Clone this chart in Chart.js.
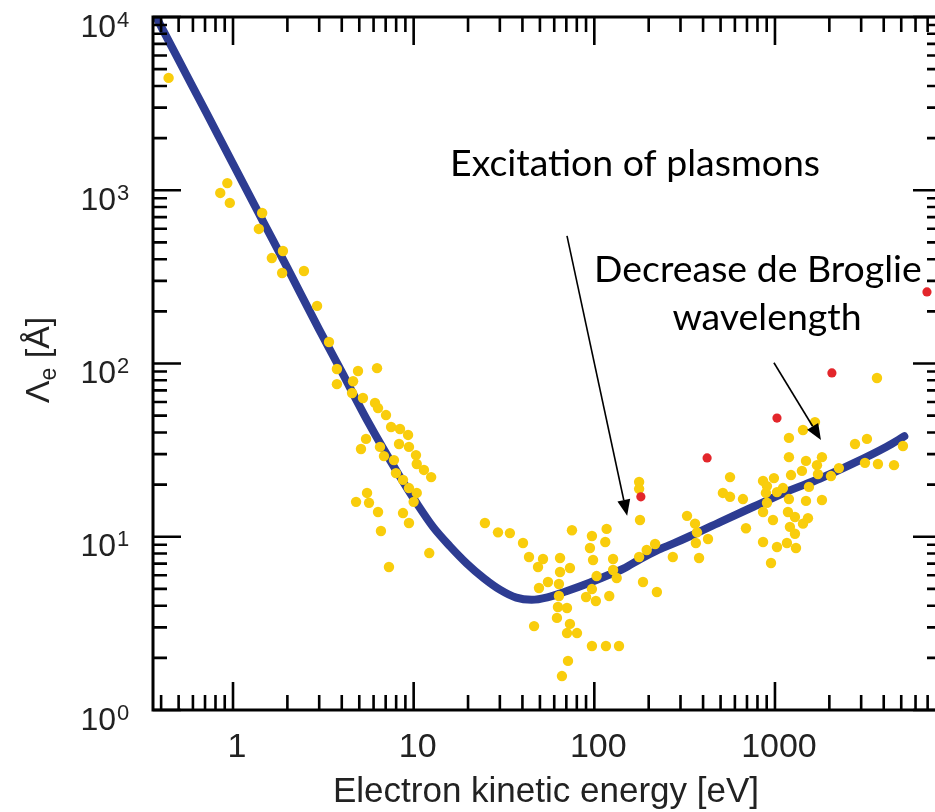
<!DOCTYPE html>
<html><head><meta charset="utf-8">
<script src="https://cdn.jsdelivr.net/npm/chart.js@4.4.0/dist/chart.umd.min.js"></script>
<style>
html,body{margin:0;padding:0;background:#fff;overflow:hidden;width:935px;height:812px}
#wrap{position:absolute;left:0;top:0;width:950px;height:812px}
</style></head><body>
<div id="wrap"><canvas id="c"></canvas></div>
<script>
// ---- data ----
const curveEnergy = [0.37, 0.5, 0.7, 1, 1.5, 2, 3, 4, 5.5, 8.4, 10.4, 12.8, 15.9, 19.7, 24.5, 30, 37, 45, 55, 70, 95, 117, 145, 180, 220, 275, 340, 500, 760, 1160, 1780, 2710, 4150, 5200];
const curveLength = [10300, 5650, 2900, 1420, 632, 356, 157, 89.5, 47.5, 22.2, 15.6, 11.4, 8.8, 7.0, 5.75, 4.95, 4.45, 4.33, 4.47, 4.85, 5.45, 5.95, 6.55, 7.45, 8.3, 9.15, 10.1, 12.2, 14.9, 18.2, 21.7, 26.5, 33.1, 38];

const yellowEnergy = [0.44, 0.93, 0.85, 0.96, 1.45, 1.39, 1.89, 1.64, 1.87, 2.47, 2.92, 3.40, 3.76, 3.76, 4.92, 6.27, 4.62, 4.56, 5.24, 6.11,
  6.35, 7.03, 7.50, 8.40, 9.31, 8.30, 9.42, 10.3, 10.4, 11.4, 12.5, 5.45, 5.11, 6.51, 6.85, 7.78, 7.98, 8.73, 9.42, 10.4,
  10.0, 5.52, 4.80, 5.66, 6.35, 8.73, 9.42, 6.59, 12.2, 7.30, 24.8, 29.3, 34.1, 40.3, 43.5, 52, 48.8, 55.4, 49.4, 64.6,
  64.6, 63.7, 73.3, 75.2, 97, 117, 115, 94.6, 98.4, 127, 103, 127, 133, 97, 90, 102, 121, 63.7, 62.9, 70.6,
  62.1, 46.4, 73.3, 70.6, 80.2, 97, 116, 137, 71.5, 66.2, 179, 177, 177, 177, 195, 217, 272, 186, 222, 326,
  361, 370, 426, 365, 380, 564, 515, 564, 665, 691, 859, 1026, 951, 859, 987, 903, 891, 1026, 1107, 903,
  859, 975, 1195, 1180, 1290, 1210, 1290, 1165, 1307, 1195, 1195, 1227, 1429, 1665, 1485, 1410, 1708, 1730, 1542, 1820,
  1485, 1820, 1523, 1429, 2042, 2259, 3670, 2773, 3230, 3150, 3715, 4560, 5110];
const yellowLength = [4450, 1100, 965, 845, 739, 598, 446, 406, 333, 342, 215, 133, 93, 76, 90.5, 94, 79, 67.6, 63.2, 59.2,
  55.3, 50.4, 43, 41.9, 38.7, 34.3, 33, 29.6, 26.3, 24.3, 22.1, 36.7, 32.1, 33, 29.2, 27.7, 23.3, 21.3, 19.1, 17.9,
  15.9, 17.9, 15.9, 15.7, 13.9, 13.7, 12.0, 10.8, 8.05, 6.69, 12.0, 10.6, 10.5, 9.2, 7.64, 7.44, 6.69, 5.48, 5.06, 7.54,
  6.26, 5.34, 6.6, 10.9, 10.1, 11.1, 9.33, 8.61, 7.34, 7.44, 5.93, 6.43, 5.78, 4.99, 4.49, 4.26, 4.55, 4.55, 3.93, 3.88,
  3.40, 3.05, 3.14, 2.78, 2.78, 2.34, 2.34, 2.34, 1.92, 1.57, 12.5, 20.7, 18.9, 7.64, 8.39, 9.08, 7.64, 5.48, 4.80, 13.2,
  11.9, 10.6, 9.7, 9.2, 7.54, 22.1, 17.9, 17, 16.5, 11.2, 9.33, 8.73, 7.05, 21, 21.8, 19.6, 17.9, 18.1, 19.1, 15.7,
  13.9, 12.5, 16.5, 13.9, 13, 11.4, 10.4, 9.2, 8.61, 37.2, 28.8, 22.7, 41.3, 45.9, 27.4, 24, 25.9, 23, 19.4, 28.8,
  16.1, 16.3, 12.8, 11.9, 22.4, 24.9, 82.5, 34.3, 36.7, 26.7, 26.3, 25.9, 33.4];

const redEnergy = [181, 421, 1026, 2066, 6940];
const redLength = [17, 28.5, 48.4, 88.2, 259];

const xTickValues = [1, 10, 100, 1000];
const xTickLabels = ['1', '10', '100', '1000'];
const yTickExponents = [0, 1, 2, 3, 4];
const xTitle = 'Electron kinetic energy [eV]';
const yTitleParts = ['\u039B', 'e', ' [\u00C5]'];
const noteTexts = ['Excitation of plasmons', 'Decrease de Broglie', 'wavelength'];

// ---- annotation anchors (data coordinates) ----
const noteAnchors = [[168, 1208], [805, 295], [903, 156]];
const arrowStarts = [[70.6, 545], [987, 101]];
const arrowEnds = [[152, 13.2], [1797, 36.2]];

const AXIS_FONT = '"Liberation Sans", Arial, Helvetica, sans-serif';
const NOTE_FONT = 'Lato, "Open Sans", sans-serif';
const TEXT_COLOR = '#222';

function logTicks(scale) {
  const out = [];
  for (let d = -1; d <= 4; d++) {
    for (let k = 1; k <= 9; k++) {
      const v = k * Math.pow(10, d);
      if (v >= scale.min * 0.9999 && v <= scale.max * 1.0001) out.push({ v, major: k === 1 });
    }
  }
  return out;
}

function drawArrow(ctx, x1, y1, x2, y2) {
  const ang = Math.atan2(y2 - y1, x2 - x1);
  const hl = 16, hw = 6.5;
  const bx = x2 - hl * Math.cos(ang), by = y2 - hl * Math.sin(ang);
  ctx.beginPath();
  ctx.moveTo(x1, y1);
  ctx.lineTo(bx, by);
  ctx.stroke();
  ctx.beginPath();
  ctx.moveTo(x2, y2);
  ctx.lineTo(bx + hw * Math.sin(ang), by - hw * Math.cos(ang));
  ctx.lineTo(bx - hw * Math.sin(ang), by + hw * Math.cos(ang));
  ctx.closePath();
  ctx.fill();
}

const framePlugin = {
  id: 'frame',
  beforeDraw(chart) {
    const { ctx, width, height } = chart;
    ctx.save();
    ctx.fillStyle = '#fff';
    ctx.fillRect(0, 0, width, height);
    ctx.restore();
  },
  afterDraw(chart) {
    const { ctx, chartArea: a } = chart;
    const xs = chart.scales.x, ys = chart.scales.y;
    ctx.save();
    // ticks (inward, all four sides)
    ctx.strokeStyle = '#000';
    ctx.lineWidth = 2.6;
    ctx.lineCap = 'butt';
    ctx.beginPath();
    logTicks(xs).forEach(t => {
      const px = xs.getPixelForValue(t.v);
      const len = t.major ? 28 : 15;
      ctx.moveTo(px, a.bottom); ctx.lineTo(px, a.bottom - len);
      ctx.moveTo(px, a.top); ctx.lineTo(px, a.top + len);
    });
    logTicks(ys).forEach(t => {
      const py = ys.getPixelForValue(t.v);
      const len = t.major ? 28 : 14;
      ctx.moveTo(a.left, py); ctx.lineTo(a.left + len, py);
      ctx.moveTo(a.right, py); ctx.lineTo(a.right - len, py);
    });
    ctx.stroke();
    // frame
    ctx.lineWidth = 3;
    ctx.strokeRect(a.left, a.top, a.right - a.left, a.bottom - a.top);

    // x tick labels
    ctx.fillStyle = TEXT_COLOR;
    ctx.font = '34px ' + AXIS_FONT;
    ctx.textAlign = 'center';
    ctx.textBaseline = 'alphabetic';
    xTickValues.forEach((v, i) => {
      ctx.fillText(xTickLabels[i], xs.getPixelForValue(v) + 4, 757);
    });
    // y tick labels 10^n
    yTickExponents.forEach(e => {
      const py = ys.getPixelForValue(Math.pow(10, e));
      const base = py + 8 + 11.5;
      ctx.font = '32px ' + AXIS_FONT;
      ctx.textAlign = 'right';
      ctx.fillText('10', 116, base);
      ctx.font = '22px ' + AXIS_FONT;
      ctx.textAlign = 'left';
      ctx.fillText(String(e), 117, base - 10);
    });
    // x title
    ctx.font = '35px ' + AXIS_FONT;
    ctx.textAlign = 'center';
    ctx.fillText(xTitle, 546, 802);
    // y title (rotated)
    ctx.save();
    ctx.translate(37, 360);
    ctx.rotate(-Math.PI / 2);
    ctx.textAlign = 'left';
    ctx.font = '34px ' + AXIS_FONT;
    const w0 = ctx.measureText(yTitleParts[0]).width;
    const w2 = ctx.measureText(yTitleParts[2]).width;
    ctx.font = '23px ' + AXIS_FONT;
    const w1 = ctx.measureText(yTitleParts[1]).width;
    const total = w0 + w1 + w2;
    const sx = -total / 2;
    ctx.font = '34px ' + AXIS_FONT;
    ctx.fillText(yTitleParts[0], sx, 12);
    ctx.font = '23px ' + AXIS_FONT;
    ctx.fillText(yTitleParts[1], sx + w0, 19);
    ctx.font = '34px ' + AXIS_FONT;
    ctx.fillText(yTitleParts[2], sx + w0 + w1, 12);
    ctx.restore();

    // annotations
    ctx.fillStyle = '#000';
    ctx.font = '32px ' + NOTE_FONT;
    const wEx = ctx.measureText(noteTexts[0]).width;
    const size = 32 * 370 / wEx;
    ctx.font = size.toFixed(2) + 'px ' + NOTE_FONT;
    ctx.textAlign = 'center';
    noteTexts.forEach((t, i) => {
      ctx.fillText(t, xs.getPixelForValue(noteAnchors[i][0]), ys.getPixelForValue(noteAnchors[i][1]));
    });
    ctx.strokeStyle = '#000';
    ctx.lineWidth = 1.6;
    arrowStarts.forEach((s, i) => {
      drawArrow(ctx,
        xs.getPixelForValue(s[0]), ys.getPixelForValue(s[1]),
        xs.getPixelForValue(arrowEnds[i][0]), ys.getPixelForValue(arrowEnds[i][1]));
    });
    ctx.restore();
  }
};

new Chart(document.getElementById('c'), {
  type: 'scatter',
  data: {
    datasets: [
      {
        label: 'Universal curve',
        data: curveEnergy.map((x, i) => ({ x, y: curveLength[i] })),
        showLine: true,
        borderColor: '#2d3c92',
        borderWidth: 8,
        pointRadius: 0,
        cubicInterpolationMode: 'monotone',
        borderCapStyle: 'round',
        borderJoinStyle: 'round',
        fill: false,
        clip: 0,
        order: 3
      },
      {
        label: 'Measurements',
        data: yellowEnergy.map((x, i) => ({ x, y: yellowLength[i] })),
        backgroundColor: '#f9cd0c',
        borderWidth: 0,
        pointRadius: 5.2,
        order: 2
      },
      {
        label: 'Other',
        data: redEnergy.map((x, i) => ({ x, y: redLength[i] })),
        backgroundColor: '#e3262b',
        borderWidth: 0,
        pointRadius: 4.6,
        order: 1
      }
    ]
  },
  options: {
    responsive: true,
    maintainAspectRatio: false,
    animation: false,
    devicePixelRatio: 1,
    layout: { padding: { left: 153, top: 17, right: 9, bottom: 102 } },
    plugins: { legend: { display: false }, tooltip: { enabled: false } },
    scales: {
      x: { type: 'logarithmic', min: 0.3607, max: 8300, display: false },
      y: { type: 'logarithmic', min: 1, max: 10000, display: false }
    }
  },
  plugins: [framePlugin]
});
</script>
</body></html>
